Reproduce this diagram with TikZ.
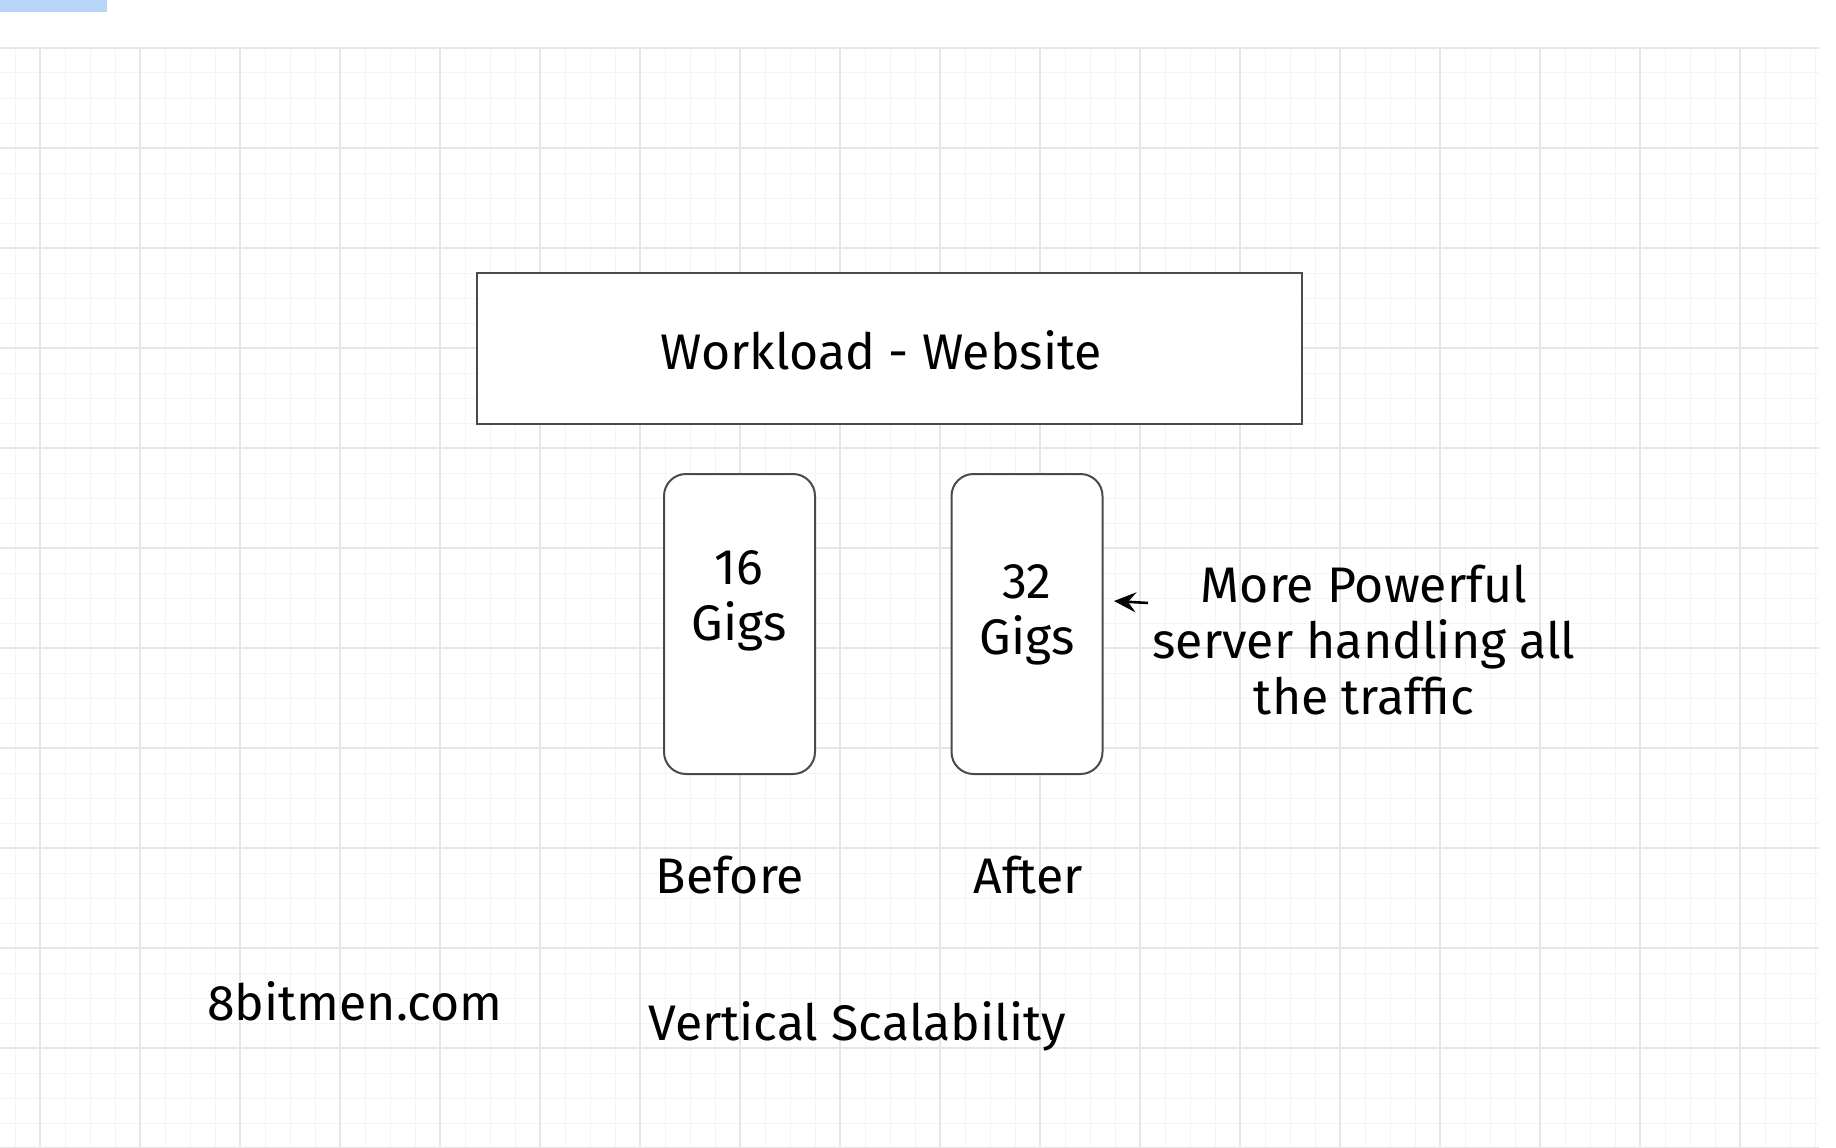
\documentclass[tikz,border=0pt]{standalone}
\usepackage{fontspec}
\setmainfont{Fira Sans}
\usetikzlibrary{arrows.meta}
\definecolor{minorgrid}{HTML}{F4F4F4}
\definecolor{majorgrid}{HTML}{E6E6E6}
\definecolor{boxline}{HTML}{4A4A4A}
\definecolor{topblue}{HTML}{B8D4F8}
\tikzset{
  lbl/.style={font=\fontsize{50}{56}\selectfont, text=black, align=center, inner sep=0pt},
  mainbox/.style={draw=boxline, line width=2.4pt, fill=white, inner sep=0pt},
  serverbox/.style={draw=boxline, line width=2pt, fill=white, rounded corners=22pt, inner sep=0pt, minimum width=151pt, minimum height=300pt},
  pointer/.style={-{Stealth[length=22pt,width=20pt,inset=8pt]}, line width=2.6pt, black}
}
\begin{document}
\begin{tikzpicture}[x=1pt,y=-1pt]
\useasboundingbox (0,0) rectangle (1836,1148);
\fill[white] (0,0) rectangle (1836,1148);
\fill[topblue] (0,0) rectangle (107,12);
% grid
\foreach \x in {15,40,...,1815} \draw[minorgrid, line width=1pt] (\x,48) -- (\x,1148);
\foreach \y in {48,73,...,1148} \draw[minorgrid, line width=1pt] (0,\y) -- (1819,\y);
\foreach \x in {40,140,...,1740} \draw[majorgrid, line width=1.5pt] (\x,48) -- (\x,1148);
\foreach \y in {48,148,...,1148} \draw[majorgrid, line width=1.5pt] (0,\y) -- (1819,\y);
% boxes
\node[mainbox, minimum width=825pt, minimum height=151pt] (work) at (889.5,348.5) {};
\node[lbl] (worktext) at (881,350) {Workload - Website};
\node[serverbox] (before) at (739.5,624) {};
\node[serverbox] (after) at (1027,624) {};
\node[lbl] (beforetext) at (739,601) {16\\Gigs};
\node[lbl] (aftertext) at (1027,615) {32\\Gigs};
\node[lbl] (note) at (1364,640) {More Powerful\\server handling all\\the traffic};
\coordinate (tail) at (1148,603);
\coordinate (tip) at (1114,601);
\draw[pointer] (tail) -- (tip);
\node[lbl] (beforelbl) at (730,875) {Before};
\node[lbl] (afterlbl) at (1028,875) {After};
\node[lbl] (site) at (355,1001) {8bitmen.com};
\node[lbl] (title) at (857,1026) {Vertical Scalability};
\end{tikzpicture}
\end{document}
